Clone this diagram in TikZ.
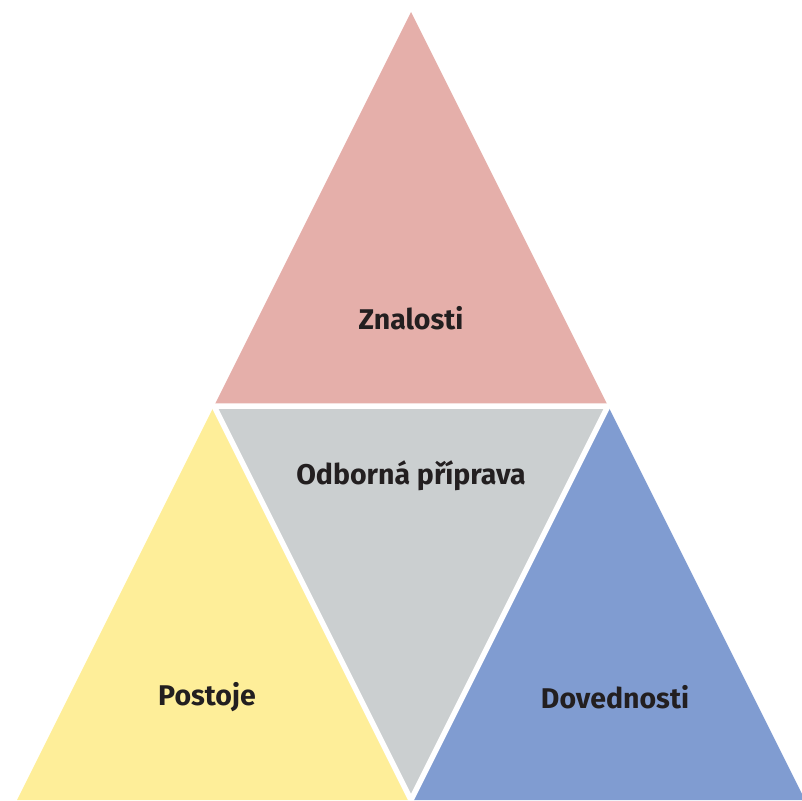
\documentclass[tikz,border=0pt]{standalone}
\usepackage{fontspec}
\setmainfont{Fira Sans}
\definecolor{pinkc}{RGB}{229,175,170}
\definecolor{grayc}{RGB}{203,207,208}
\definecolor{yellowc}{RGB}{254,238,153}
\definecolor{bluec}{RGB}{128,156,209}
\definecolor{textc}{RGB}{35,31,32}
\begin{document}
\begin{tikzpicture}[x=1pt,y=-1pt,
  lbl/.style={font=\fontsize{28.5}{33}\selectfont\bfseries, text=textc, inner sep=0pt},
  sep/.style={draw=white, line width=5.5pt, line join=miter}]
\useasboundingbox (0,0) rectangle (802,800);
\clip (0,0) rectangle (802,800);
\coordinate (A) at (411,12);
\coordinate (L) at (17,800);
\coordinate (R) at (805,800);
\coordinate (ML) at (214,406);
\coordinate (MR) at (608,406);
\coordinate (MB) at (411,800);
\fill[pinkc] (A) -- (ML) -- (MR) -- cycle;
\fill[yellowc] (ML) -- (L) -- (MB) -- cycle;
\fill[bluec] (MR) -- (MB) -- (R) -- cycle;
\fill[grayc] (ML) -- (MR) -- (MB) -- cycle;
\draw[sep] (ML) -- (MR) -- (MB) -- cycle;
\node[lbl] (zn) at (411,318) {Znalosti};
\node[lbl] (op) at (411,476) {Odborná příprava};
\node[lbl] (po) at (207,697) {Postoje};
\node[lbl] (do) at (615,697) {Dovednosti};
\end{tikzpicture}
\end{document}
